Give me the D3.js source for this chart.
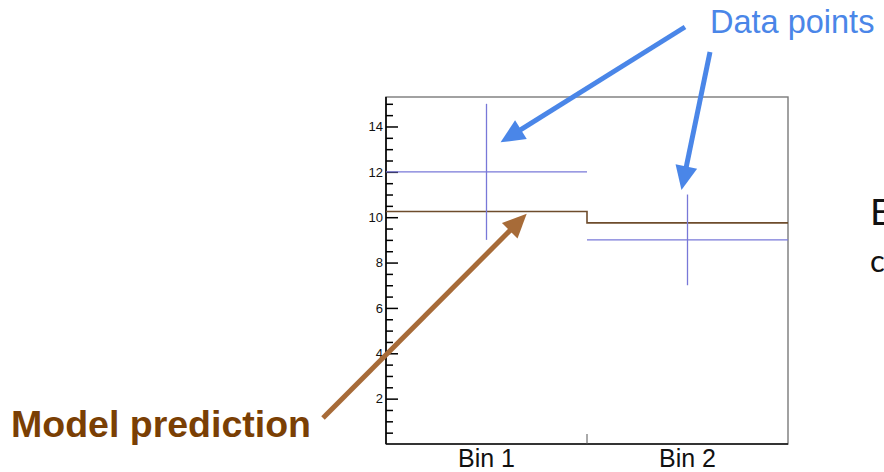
<!DOCTYPE html>
<html>
<head>
<meta charset="utf-8">
<script src="https://cdn.jsdelivr.net/npm/d3@7"></script>
<style>
  body { margin: 0; background: #fff; overflow: hidden; }
  svg { display: block; }
</style>
</head>
<body>
<svg id="chart" width="884" height="472"></svg>
<script>
// --- data ---
var binEdges = [0, 1, 2];
var binLabels = ['Bin 1', 'Bin 2'];
var dataValues = [12, 9];
var dataErrors = [3, 2];
var modelValues = [10.25, 9.75];
var yMajorTicks = [2, 4, 6, 8, 10, 12, 14];
var yMinorTicks = d3.range(1, 31).map(function(d) { return d / 2; }).filter(function(d) { return d % 2 !== 0; });

// annotation arrows: tip given in data units, tail in page pixels
var blueArrows = [
    { tx: 0.57, ty: 13.3, sx: 685, sy: 27 },
    { tx: 1.47, ty: 11.2, sx: 710, sy: 52 }
];
var brownArrows = [
    { tx: 0.70, ty: 10.15, sx: 323, sy: 418 }
];

var svg = d3.select('#chart');

var x = d3.scaleLinear().domain([0, 2]).range([386, 788]);
var y = d3.scaleLinear().domain([0, 15.3]).range([444, 97]);

var blue = '#4a86e8',
    brownArrow = '#a76b38',
    brownText = '#7a3f04',
    histColor = '#6e4c2c',
    pointColor = '#7878d8';

// frame (top/right grey)
svg.append('rect')
    .attr('x', x(0)).attr('y', y(15.3))
    .attr('width', x(2) - x(0)).attr('height', y(0) - y(15.3))
    .style('fill', 'none').style('stroke', '#7a7a7a').style('stroke-width', '1.4px');

// y axis, ticks pointing inward
var yAxis = svg.append('g')
    .attr('transform', 'translate(' + x(0) + ',0)')
    .call(d3.axisLeft(y).tickValues(yMajorTicks).tickSize(-12).tickPadding(3));
yAxis.select('.domain').attr('d', 'M0,' + y(0) + 'V' + y(15.3)).style('stroke-width', '1.6px');
yAxis.selectAll('.tick line').style('stroke-width', '1.5px');
yAxis.selectAll('text').style('font-family', '"Liberation Sans", Arial, sans-serif')
    .style('font-size', '13px').style('fill', '#111');

svg.append('g')
    .attr('transform', 'translate(' + x(0) + ',0)')
    .call(d3.axisLeft(y).tickValues(yMinorTicks).tickSize(-7).tickFormat(''))
    .call(function(g) { g.select('.domain').remove(); })
    .selectAll('line').style('stroke-width', '1.5px');

// bottom axis line + bin boundary tick
svg.append('line')
    .attr('x1', x(0)).attr('x2', x(2)).attr('y1', y(0)).attr('y2', y(0))
    .style('stroke', '#111').style('stroke-width', '1.6px');
svg.selectAll('.bin-tick')
    .data(binEdges.slice(1, -1))
    .enter().append('line')
    .attr('class', 'bin-tick')
    .attr('x1', function(d) { return x(d); }).attr('x2', function(d) { return x(d); })
    .attr('y1', y(0)).attr('y2', y(0) - 10)
    .style('stroke', '#555').style('stroke-width', '1px');

svg.selectAll('.bin-label')
    .data(binLabels)
    .enter().append('text')
    .attr('class', 'bin-label')
    .attr('x', function(d, i) { return x(i + 0.5); })
    .attr('y', 467)
    .attr('text-anchor', 'middle')
    .style('font-family', '"Liberation Sans", Arial, sans-serif')
    .style('font-size', '25px')
    .style('fill', '#111')
    .text(function(d) { return d; });

// model prediction histogram
var stepPts = [];
modelValues.forEach(function(v, i) {
    stepPts.push([binEdges[i], v]);
    stepPts.push([binEdges[i + 1], v]);
});
svg.append('path')
    .datum(stepPts)
    .attr('d', d3.line().x(function(d) { return x(d[0]); }).y(function(d) { return y(d[1]); }))
    .style('fill', 'none').style('stroke', histColor).style('stroke-width', '1.6px');

// data points with error bars
var pts = svg.selectAll('.pt')
    .data(dataValues)
    .enter().append('g').attr('class', 'pt');
pts.append('line')
    .attr('x1', function(d, i) { return x(binEdges[i]); })
    .attr('x2', function(d, i) { return x(binEdges[i + 1]); })
    .attr('y1', function(d) { return y(d); }).attr('y2', function(d) { return y(d); })
    .style('stroke', pointColor).style('stroke-width', '1.3px');
pts.append('line')
    .attr('x1', function(d, i) { return x(i + 0.5); })
    .attr('x2', function(d, i) { return x(i + 0.5); })
    .attr('y1', function(d, i) { return y(d + dataErrors[i]); })
    .attr('y2', function(d, i) { return y(d - dataErrors[i]); })
    .style('stroke', pointColor).style('stroke-width', '1.3px');

// arrows
function drawArrow(a, color, width, headLen, headW) {
    var tx = x(a.tx), ty = y(a.ty);
    var dx = tx - a.sx, dy = ty - a.sy;
    var len = Math.sqrt(dx * dx + dy * dy);
    var ux = dx / len, uy = dy / len;
    var bx = tx - ux * headLen, by = ty - uy * headLen;
    svg.append('line')
        .attr('x1', a.sx).attr('y1', a.sy)
        .attr('x2', bx + ux * 2).attr('y2', by + uy * 2)
        .style('stroke', color).style('stroke-width', width + 'px');
    svg.append('path')
        .attr('d', 'M' + tx + ',' + ty +
            'L' + (bx - uy * headW / 2) + ',' + (by + ux * headW / 2) +
            'L' + (bx + uy * headW / 2) + ',' + (by - ux * headW / 2) + 'Z')
        .style('fill', color);
}
blueArrows.forEach(function(a) { drawArrow(a, blue, 5, 24, 22); });
brownArrows.forEach(function(a) { drawArrow(a, brownArrow, 5, 24, 22); });

// annotation texts
svg.append('text')
    .attr('x', 710).attr('y', 33)
    .style('font-family', '"Liberation Sans", Arial, sans-serif')
    .style('font-size', '32.5px')
    .style('fill', blue)
    .text('Data points');

svg.append('text')
    .attr('x', 11).attr('y', 437)
    .style('font-family', '"Liberation Sans", Arial, sans-serif')
    .style('font-size', '37.5px')
    .style('font-weight', 'bold')
    .style('fill', brownText)
    .text('Model prediction');

// partial slide text cut by the right edge
svg.append('text')
    .attr('x', 870).attr('y', 225)
    .style('font-family', 'Lato, "Open Sans", sans-serif')
    .style('font-size', '37px')
    .style('fill', '#111')
    .text('E');
svg.append('text')
    .attr('x', 870).attr('y', 272)
    .style('font-family', 'Lato, "Open Sans", sans-serif')
    .style('font-size', '31px')
    .style('fill', '#111')
    .text('c');
</script>
</body>
</html>
